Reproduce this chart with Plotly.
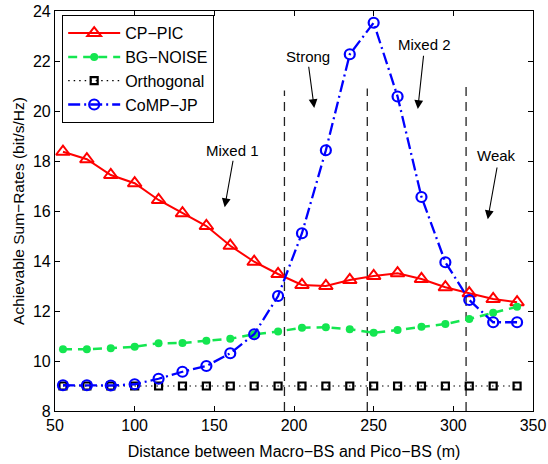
import plotly.graph_objects as go

# ---- data ----
distance = [55, 70, 85, 100, 115, 130, 145, 160, 175, 190, 205, 220, 235, 250, 265, 280, 295, 310, 325, 340]
cp_pic = [18.37, 18.07, 17.44, 17.11, 16.44, 15.91, 15.40, 14.61, 13.97, 13.48, 13.04, 13.00, 13.24, 13.40, 13.51, 13.28, 12.95, 12.71, 12.48, 12.35]
bg_noise = [10.47, 10.47, 10.51, 10.57, 10.71, 10.72, 10.81, 10.89, 11.07, 11.18, 11.33, 11.35, 11.27, 11.13, 11.24, 11.37, 11.48, 11.68, 11.93, 12.17]
orthogonal = [9.0] * 20
comp_jp = [9.03, 9.03, 9.02, 9.07, 9.29, 9.57, 9.80, 10.31, 11.07, 12.60, 15.11, 18.43, 22.27, 23.53, 20.58, 16.56, 13.95, 12.44, 11.55, 11.55]

# region boundaries (dashed vertical lines)
boundary_x = [194, 246, 308]
boundary_top = [20.82, 20.9, 21.02]
boundary_bottom = 8

# region labels
region_names = ["Mixed 1", "Strong", "Mixed 2", "Weak"]
label_x = [161.3, 208.5, 281.9, 327.4]
label_y = [18.44, 22.19, 22.66, 18.24]
arrow_tail_x = [161.9, 209.1, 281.4, 327.6]
arrow_tail_y = [18.07, 21.83, 22.27, 17.80]
arrow_tip_x = [156.5, 212.7, 277.7, 321.6]
arrow_tip_y = [16.15, 20.12, 20.08, 15.67]

x_ticks = [50, 100, 150, 200, 250, 300, 350]
y_ticks = [8, 10, 12, 14, 16, 18, 20, 22, 24]

FONT = "Liberation Sans, Arial, Helvetica, sans-serif"

fig = go.Figure()

# dashed boundaries
for bx, bt in zip(boundary_x, boundary_top):
    fig.add_trace(go.Scatter(
        x=[bx, bx], y=[boundary_bottom, bt], mode="lines",
        line=dict(color="#222222", width=1.3, dash="9px,6px"),
        showlegend=False, hoverinfo="skip"))

fig.add_trace(go.Scatter(
    x=distance, y=cp_pic, name="CP\u2212PIC", mode="lines+markers",
    line=dict(color="#ff0000", width=2),
    marker=dict(symbol="triangle-up-open", size=12, color="#ff0000",
                line=dict(width=2, color="#ff0000"))))

fig.add_trace(go.Scatter(
    x=distance, y=bg_noise, name="BG\u2212NOISE", mode="lines+markers",
    line=dict(color="#14e650", width=2.5, dash="9px,6px"),
    marker=dict(symbol="circle", size=8, color="#14e650")))

fig.add_trace(go.Scatter(
    x=distance, y=orthogonal, name="Orthogonal", mode="lines+markers",
    line=dict(color="#000000", width=1.2, dash="1.5px,4px"),
    marker=dict(symbol="square-open", size=7, color="#000000",
                line=dict(width=2.2, color="#000000"))))

fig.add_trace(go.Scatter(
    x=distance, y=comp_jp, name="CoMP\u2212JP", mode="lines+markers",
    line=dict(color="#0000ff", width=2.3, dash="12px,4px,2px,4px"),
    marker=dict(symbol="circle-open", size=10, color="#0000ff",
                line=dict(width=2.2, color="#0000ff"))))

annotations = []
for name, tx, ty, ax0, ay0, hx, hy in zip(region_names, label_x, label_y,
                                         arrow_tail_x, arrow_tail_y,
                                         arrow_tip_x, arrow_tip_y):
    annotations.append(dict(x=tx, y=ty, xref="x", yref="y", text=name,
                            showarrow=False, font=dict(family=FONT, size=15, color="#000000")))
    annotations.append(dict(x=hx, y=hy, ax=ax0, ay=ay0, xref="x", yref="y",
                            axref="x", ayref="y", text="", showarrow=True,
                            arrowhead=2, arrowsize=1.6, arrowwidth=1.1,
                            arrowcolor="#000000"))

axis_common = dict(showline=True, linecolor="#000000", linewidth=1.2,
                   mirror="allticks", ticks="inside", ticklen=5,
                   tickcolor="#000000", showgrid=False, zeroline=False,
                   automargin=False,
                   tickfont=dict(family=FONT, size=16, color="#000000"))

fig.update_layout(
    template="none",
    width=548, height=464,
    margin=dict(l=55, r=15, t=11, b=53),
    paper_bgcolor="#ffffff", plot_bgcolor="#ffffff",
    font=dict(family=FONT, color="#000000"),
    xaxis=dict(range=[50, 350], tickvals=x_ticks,
               title=dict(text="Distance between Macro\u2212BS and Pico\u2212BS (m)",
                          font=dict(family=FONT, size=16), standoff=12),
               **axis_common),
    yaxis=dict(range=[8, 24], tickvals=y_ticks,
               title=dict(text="Achievable Sum\u2212Rates (bit/s/Hz)",
                          font=dict(family=FONT, size=15.5), standoff=4),
               **axis_common),
    legend=dict(x=0.0146, y=0.99, xanchor="left", yanchor="top",
                bgcolor="#ffffff", bordercolor="#000000", borderwidth=1.2,
                font=dict(family=FONT, size=16, color="#000000"),
                itemwidth=52, tracegroupgap=0),
    annotations=annotations,
    showlegend=True,
)

fig.write_html("out.html",
               config={"displayModeBar": False},
               post_script="document.body.style.margin='0';document.body.style.padding='0';")
